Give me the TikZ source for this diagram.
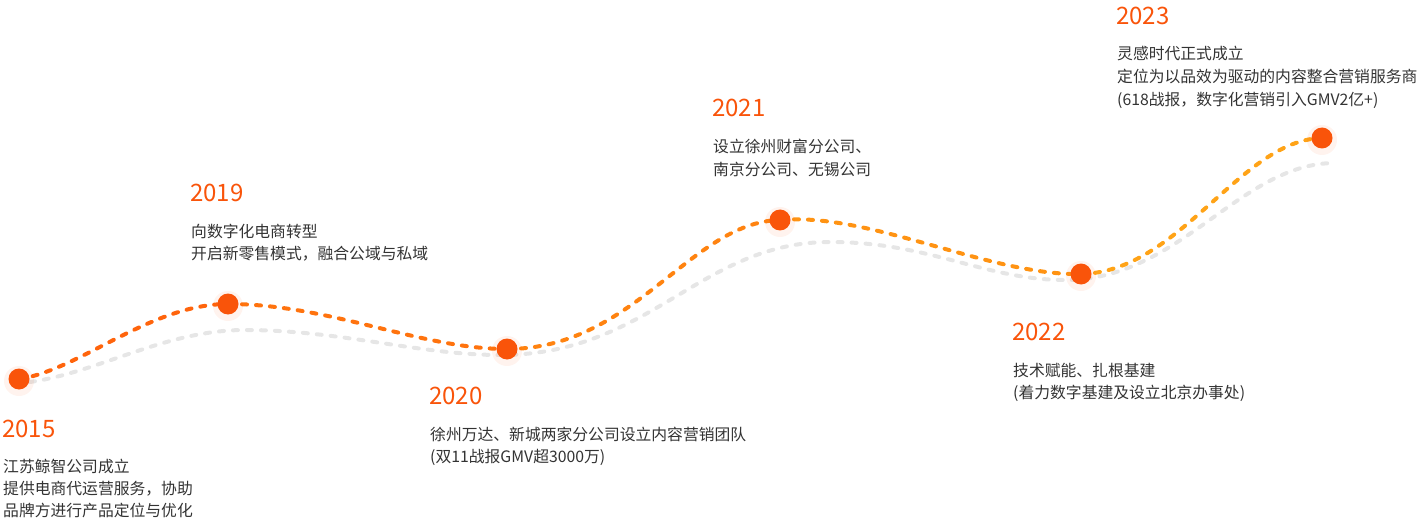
\documentclass[tikz,border=0pt]{standalone}
\usepackage{fontspec}
\setmainfont{Noto Sans CJK SC}
\definecolor{yearc}{HTML}{F9540A}
\definecolor{dotc}{HTML}{F9540A}
\definecolor{textc}{HTML}{333333}
\definecolor{shadowc}{HTML}{E6E6E6}
\definecolor{oa}{HTML}{FF640C}
\definecolor{ob}{HTML}{FF730E}
\definecolor{oc}{HTML}{FF8310}
\definecolor{od}{HTML}{FF9313}
\definecolor{oe}{HTML}{FFA317}
\begin{document}
\begin{tikzpicture}[x=1pt,y=-1pt,
  yearlabel/.style={anchor=base west, inner sep=0pt, text=yearc, font=\fontsize{24}{24}\selectfont},
  desc/.style={anchor=base west, inner sep=0pt, text=textc, font=\fontsize{15.8}{20}\selectfont},
  dotnode/.style={circle, fill=dotc, minimum size=21pt, inner sep=0pt},
  dotglow/.style={circle, fill=dotc, fill opacity=0.07, minimum size=30pt, inner sep=0pt},
  trail/.style={line width=4pt, line cap=round, dash pattern=on 5pt off 9pt},
  ghost/.style={line width=4pt, line cap=round, dash pattern=on 5pt off 9pt, draw=shadowc}
]
\useasboundingbox (0,0) rectangle (1420,521);

% grey shadow curve
\draw[ghost] (30,382) .. controls (100,372) and (165,330) .. (245,330)
  .. controls (340,330) and (420,355) .. (500,355)
  .. controls (650,355) and (700,242) .. (830,242)
  .. controls (930,242) and (985,280) .. (1065,280)
  .. controls (1180,280) and (1240,163) .. (1335,163);

% point coordinates
\coordinate (p15) at (19,379);
\coordinate (p19) at (228,304);
\coordinate (p20) at (507,349);
\coordinate (p21) at (780,220);
\coordinate (p22) at (1081,274);
\coordinate (p23) at (1322,138);

% orange path
\draw[trail, draw=oa] (p15) .. controls (80,370) and (150,304) .. (p19);
\draw[trail, draw=ob] (p19) .. controls (330,304) and (420,349) .. (p20);
\draw[trail, draw=oc] (p20) .. controls (635,349) and (690,222) .. (p21);
\draw[trail, draw=od] (p21) .. controls (870,212) and (990,276) .. (p22);
\draw[trail, draw=oe] (p22) .. controls (1180,272) and (1240,140) .. (p23);

% dots
\foreach \p in {p15,p19,p20,p21,p22,p23}{
  \node[dotglow] (g\p) at ([yshift=-2pt]\p) {};
  \node[dotnode] (d\p) at (\p) {};
}

% 2015
\node[yearlabel] (y15) at (2,437) {2015};
\node[desc] (t15a) at (3,472) {江苏鲸智公司成立};
\node[desc] (t15b) at (3,494) {提供电商代运营服务，协助};
\node[desc] (t15c) at (3,516) {品牌方进行产品定位与优化};

% 2019
\node[yearlabel] (y19) at (190,202) {2019};
\node[desc] (t19a) at (191,237) {向数字化电商转型};
\node[desc] (t19b) at (191,259.5) {开启新零售模式，融合公域与私域};

% 2020
\node[yearlabel] (y20) at (429,404) {2020};
\node[desc] (t20a) at (430,440) {徐州万达、新城两家分公司设立内容营销团队};
\node[desc] (t20b) at (430,462.5) {(双11战报GMV超3000万)};

% 2021
\node[yearlabel] (y21) at (712,117) {2021};
\node[desc] (t21a) at (713,153) {设立徐州财富分公司、};
\node[desc] (t21b) at (713,176) {南京分公司、无锡公司};

% 2022
\node[yearlabel] (y22) at (1012,340) {2022};
\node[desc] (t22a) at (1013,376) {技术赋能、扎根基建};
\node[desc] (t22b) at (1013,398.5) {(着力数字基建及设立北京办事处)};

% 2023
\node[yearlabel] (y23) at (1116,25) {2023};
\node[desc] (t23a) at (1117,60) {灵感时代正式成立};
\node[desc] (t23b) at (1117,83) {定位为以品效为驱动的内容整合营销服务商};
\node[desc] (t23c) at (1117,106) {(618战报，数字化营销引入GMV2亿+)};
\end{tikzpicture}
\end{document}
